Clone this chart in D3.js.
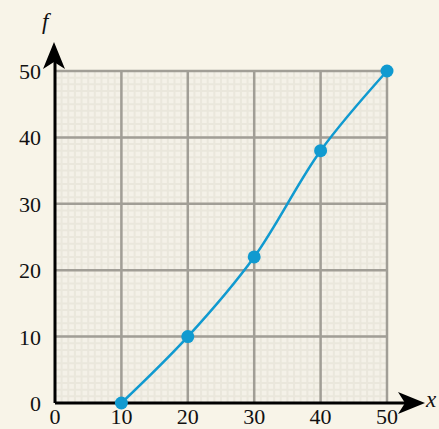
<!DOCTYPE html>
<html><head><meta charset="utf-8">
<script src="https://cdn.jsdelivr.net/npm/d3@7"></script>
<style>html,body{margin:0;padding:0;background:#f8f4e8;}
#wrap{position:relative;width:439px;height:429px;overflow:hidden;}
svg{display:block;position:absolute;left:0;top:0;}
.lbl{position:absolute;font-family:"Liberation Serif","Times New Roman",serif;font-size:22px;line-height:1;color:#111;white-space:nowrap;}
.it{font-style:italic;font-size:23px;}</style>
</head><body>
<div id="wrap"><svg id="c" width="439" height="429"></svg></div>
<script>
const xValues = [10, 20, 30, 40, 50];
const fValues = [0, 10, 22, 38, 50];
const xTicks = [0, 10, 20, 30, 40, 50];
const yTicks = [0, 10, 20, 30, 40, 50];
const xLabel = "x";
const yLabel = "f";

const svg = d3.select("#c");
const wrap = d3.select("#wrap");
const x = d3.scaleLinear().domain([0, 50]).range([55, 387]);
const y = d3.scaleLinear().domain([0, 50]).range([403, 71]);

svg.append("rect").attr("width", 439).attr("height", 429).attr("fill", "#f8f4e8");
svg.append("rect").attr("x", x(0)).attr("y", y(50)).attr("width", x(50) - x(0)).attr("height", y(0) - y(50)).attr("fill", "#f4f1e8");
const minor = d3.range(0, 50.01, 1);
const gMinor = svg.append("g").attr("stroke", "#eae7dc").attr("stroke-width", 2);
minor.forEach(v => {
  gMinor.append("line").attr("x1", x(v)).attr("x2", x(v)).attr("y1", y(0)).attr("y2", y(50));
  gMinor.append("line").attr("y1", y(v)).attr("y2", y(v)).attr("x1", x(0)).attr("x2", x(50));
});
const gMajor = svg.append("g").attr("stroke", "#a19e96").attr("stroke-width", 2.5);
xTicks.filter(v => v > 0).forEach(v => gMajor.append("line").attr("x1", x(v)).attr("x2", x(v)).attr("y1", y(0)).attr("y2", y(50)));
yTicks.filter(v => v > 0).forEach(v => gMajor.append("line").attr("y1", y(v)).attr("y2", y(v)).attr("x1", x(0)).attr("x2", x(50)));

svg.append("line").attr("x1", x(0)).attr("x2", 412).attr("y1", y(0)).attr("y2", y(0)).attr("stroke", "#000").attr("stroke-width", 3);
svg.append("line").attr("x1", x(0)).attr("x2", x(0)).attr("y1", y(0)).attr("y2", 55).attr("stroke", "#000").attr("stroke-width", 3);
const ax = x(0) - 1, ay = 42;
svg.append("path").attr("d", `M${ax},${ay} L${ax+11},${ay+27} L${ax},${ay+20} L${ax-11},${ay+27} Z`).attr("fill", "#000");
const bx = 425, by = y(0);
svg.append("path").attr("d", `M${bx},${by} L${bx-27},${by-11} L${bx-20},${by} L${bx-27},${by+11} Z`).attr("fill", "#000");

// labels as HTML text (line-height 1, font 22px: baseline ≈ top + 17.5)
wrap.selectAll("div.ylbl").data(yTicks).join("div").attr("class", "lbl ylbl")
  .style("right", (439 - 41) + "px").style("top", d => (y(d) - 10) + "px").text(d => d);
wrap.selectAll("div.xlbl").data(xTicks).join("div").attr("class", "lbl xlbl")
  .style("left", d => x(d) + "px").style("top", "406px").style("transform", "translateX(-50%)").text(d => d);
wrap.append("div").attr("class", "lbl it").style("left", "42px").style("top", "10px").text(yLabel);
wrap.append("div").attr("class", "lbl it").style("left", "426px").style("top", "388px").text(xLabel);

const pts = xValues.map((v, i) => [v, fValues[i]]);
const line = d3.line().x(d => x(d[0])).y(d => y(d[1])).curve(d3.curveCatmullRom.alpha(0.5));
svg.append("path").attr("d", line(pts)).attr("fill", "none").attr("stroke", "#109ad0").attr("stroke-width", 2.5);
svg.append("g").selectAll("circle").data(pts).join("circle")
  .attr("cx", d => x(d[0])).attr("cy", d => y(d[1])).attr("r", 6.5).attr("fill", "#109ad0");
</script>
</body></html>
